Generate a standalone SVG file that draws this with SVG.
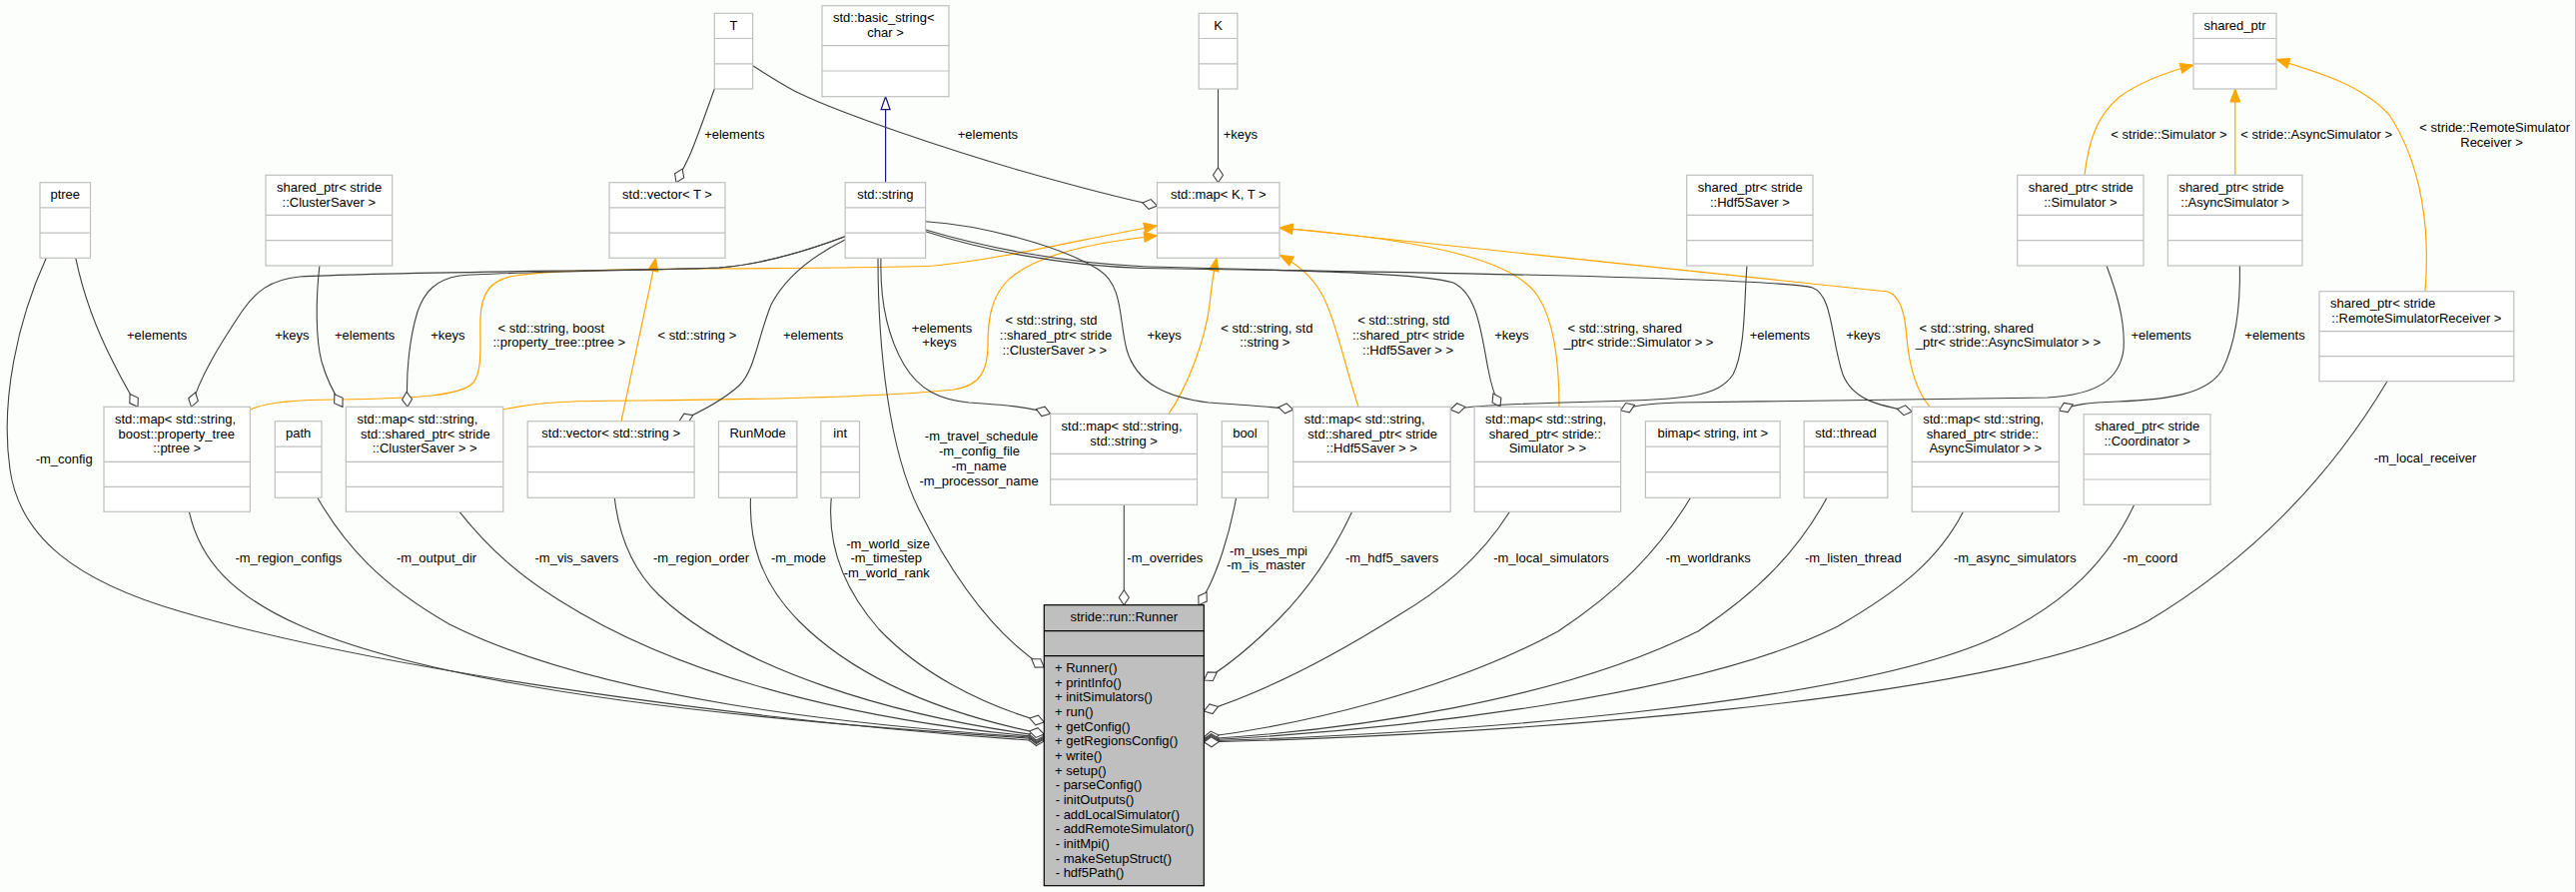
<svg xmlns="http://www.w3.org/2000/svg" width="2579" height="893" viewBox="0 0 2579 893">
<style>
.b{fill:#fff;stroke:#bfbfbf;stroke-width:1.2}
.s{stroke:#bfbfbf;stroke-width:1.2}
text{font-family:"Liberation Sans",Arial,Helvetica,sans-serif;font-size:13px;fill:#000}
.m{text-anchor:middle}
.e{fill:none;stroke:#404040;stroke-width:1.1;marker-end:url(#dia)}
.o{fill:none;stroke:#ffa500;stroke-width:1.2;marker-end:url(#arr)}
.n{fill:none;stroke:#191970;stroke-width:1.2;marker-end:url(#tri)}
</style>
<defs>
<marker id="dia" viewBox="0 0 17 12" markerWidth="17" markerHeight="12" refX="16" refY="6" orient="auto" markerUnits="userSpaceOnUse" overflow="visible"><path d="M1,6 L8.5,1 L16,6 L8.5,11 Z" fill="#fff" stroke="#404040" stroke-width="1.1"/></marker>
<marker id="arr" viewBox="0 0 15 12" markerWidth="15" markerHeight="12" refX="14" refY="6" orient="auto" markerUnits="userSpaceOnUse" overflow="visible"><path d="M1,1 L14,6 L1,11 Z" fill="#ffa500" stroke="#ffa500"/></marker>
<marker id="tri" viewBox="0 0 15 12" markerWidth="15" markerHeight="12" refX="14" refY="6" orient="auto" markerUnits="userSpaceOnUse" overflow="visible"><path d="M1,1.5 L14,6 L1,10.5 Z" fill="#fff" stroke="#191970" stroke-width="1.2"/></marker>
</defs>
<rect x="0" y="0" width="2579" height="893" fill="#fcfefc"/>
<rect x="2578" y="0" width="1" height="893" fill="#c4c4c4"/>

<g id="connectors">
<!-- template instantiation (orange) -->
<path class="o" d="M250.4,410 C268,402 300,400 337,400 C420,399 462,396 474,383 C484,370 480,340 481,318 C482,292 492,280 515,276 C560,270 620,270 700,269 C840,268 900,268 935,266 C1000,260 1090,238 1158.5,226"/>
<path class="o" d="M622,421.7 C632,375 645,315 656.5,258.3"/>
<path class="o" d="M503.8,410 C540,402 580,401 640,401 C760,400 880,398 955,390 C982,386 989,370 989,345 C989,318 993,300 1005,285 C1030,255 1100,242 1158.5,236"/>
<path class="o" d="M1170,414.3 C1186,392 1206,345 1211,305 C1213,285 1215,272 1218,258.3"/>
<path class="o" d="M1360,407.3 C1346,365 1336,315 1322,292 C1312,275 1298,264 1281.5,255.5"/>
<path class="o" d="M1561,407.3 C1561,360 1555,320 1540,297 C1520,265 1450,242 1281,228"/>
<path class="o" d="M1932,407.3 C1916,388 1911,362 1909,338 C1907,312 1902,296 1890,292 L1281,228"/>
<path class="o" d="M2087,175.3 C2091,140 2100,115 2122,97 C2142,82 2170,72 2196,65"/>
<path class="o" d="M2237.8,175.3 L2237.8,89"/>
<path class="o" d="M2428,291.7 C2433,230 2425,165 2392,115 C2365,85 2320,72 2279,59.5"/>
<!-- inheritance -->
<path class="n" d="M886.6,182.7 L886.6,96.7"/>
<!-- usage -->
<path class="e" d="M715.3,89 C707,112 699,135 692,152 C687,164 681,174 677,182.7"/>
<path class="e" d="M753.6,65.7 C770,76 785,86 800,93.3 C845,115 950,150 1018.8,170 C1075,186 1125,199 1158.5,206"/>
<path class="e" d="M1219.5,89 L1219.5,182.7"/>
<path class="e" d="M75.8,258.3 C84,298 99,335 114,364 C124,384 131,396 138,407.3"/>
<path class="e" d="M846,236.7 C800,254 760,265 720,268 C650,271 380,272 300,277 C270,280 256,292 242,312 C220,345 200,377 191.5,407.3"/>
<path class="e" d="M846,236.7 C800,254 760,265 720,268 C650,271 500,272 460,276 C436,280 425,292 418,312 C410,338 406,375 408,407.3"/>
<path class="e" d="M319.9,266 C316,300 316,340 322,362 C327,380 335,395 343,407.3"/>
<path class="e" d="M846,240 C810,258 785,280 772,305 C758,340 756,370 740,386 C722,402 700,413 680,421.7"/>
<path class="e" d="M882,258.3 C881,292 886,332 905,365 C920,390 940,400 970,403 C1000,405 1030,407 1051.6,414.3"/>
<path class="e" d="M879,258.3 C879,350 890,450 920,510 C950,570 990,632 1045.3,668"/>
<path class="e" d="M926.6,221.7 C980,225 1060,245 1100,270 C1125,286 1120,320 1128,350 C1138,385 1170,398 1210,403 C1250,406 1275,407 1294.7,410"/>
<path class="e" d="M926.6,230 C980,246 1060,263 1145,266.7 C1250,270 1420,272 1455,283 C1480,295 1483,335 1490,370 C1493,386 1497,398 1502,407.3"/>
<path class="e" d="M926.6,231.7 C980,249 1060,266 1145,268.5 C1400,272 1780,278 1814.5,288 C1835,295 1833,340 1845,375 C1855,400 1880,406 1914.2,412"/>
<path class="e" d="M1749,266 C1746,300 1748,350 1735,375 C1720,397 1690,400 1600,402 C1530,404 1480,405 1452.1,410"/>
<path class="e" d="M2109,266 C2118,290 2128,320 2126,350 C2122,380 2100,395 2050,398 C1900,401 1750,402 1680,403 C1650,404 1635,406 1622.6,411"/>
<path class="e" d="M2242.4,266 C2243,300 2240,340 2225,370 C2210,395 2170,400 2120,402 C2090,403 2075,405 2061.4,411"/>
<!-- members of Runner -->
<path class="e" d="M46.3,258.3 C18,320 0,400 10,470 C20,540 80,583 180,612 C400,677 800,726 1045.3,742"/>
<path class="e" d="M189.4,512.3 C200,560 232,596 300,626 C450,692 760,722 1045.3,740"/>
<path class="e" d="M317.8,498.3 C345,545 380,585 450,625 C600,700 850,726 1045.3,739"/>
<path class="e" d="M460,512.3 C490,550 520,576 560,601 C700,690 900,726 1045.3,738"/>
<path class="e" d="M615.3,498.3 C620,540 635,572 660,596 C740,672 900,718 1045.3,737"/>
<path class="e" d="M751.5,498.3 C750,540 760,582 800,622 C860,682 950,716 1045.3,735"/>
<path class="e" d="M832.3,498.3 C828,545 845,590 880,630 C920,672 980,705 1045.3,723"/>
<path class="e" d="M1125.3,505.3 L1125.3,605.7"/>
<path class="e" d="M1237.6,498.3 C1230,540 1218,572 1210,588 C1206,596 1203,601 1200,605.7"/>
<path class="e" d="M1353.7,512.3 C1335,552 1310,590 1280,620 C1255,645 1232,665 1205.3,681"/>
<path class="e" d="M1511.5,512.3 C1480,562 1440,592 1400,616 C1330,660 1262,694 1205.3,712"/>
<path class="e" d="M1692.5,498.3 C1660,552 1620,592 1560,632 C1450,692 1300,726 1205.3,738"/>
<path class="e" d="M1829,498.3 C1800,552 1760,592 1700,632 C1560,702 1350,731 1205.3,740"/>
<path class="e" d="M1965.5,512.3 C1940,562 1900,592 1840,627 C1700,697 1400,731 1205.3,741"/>
<path class="e" d="M2136.7,505.3 C2110,562 2070,602 2000,637 C1850,707 1450,734 1205.3,742"/>
<path class="e" d="M2390,381.7 C2330,482 2250,562 2150,622 C2000,702 1500,736 1205.3,743"/>
</g>

<g id="edge-labels">
<text class="m" x="735.3" y="139.4">+elements</text>
<text class="m" x="988.9" y="139.4">+elements</text>
<text class="m" x="1241.9" y="139.4">+keys</text>
<text class="m" x="2171.5" y="139.4">&lt; stride::Simulator &gt;</text>
<text class="m" x="2319.2" y="139.4">&lt; stride::AsyncSimulator &gt;</text>
<text class="m" x="2497.7" y="132.4">&lt; stride::RemoteSimulator</text>
<text class="m" x="2494.5" y="147.1">Receiver &gt;</text>
<text class="m" x="157.2" y="340.4">+elements</text>
<text class="m" x="292.3" y="340.4">+keys</text>
<text class="m" x="365.1" y="340.4">+elements</text>
<text class="m" x="448.4" y="340.4">+keys</text>
<text class="m" x="551.8" y="333.4">&lt; std::string, boost</text>
<text class="m" x="559.8" y="347.4">::property_tree::ptree &gt;</text>
<text class="m" x="697.9" y="340.4">&lt; std::string &gt;</text>
<text class="m" x="814.2" y="340.4">+elements</text>
<text class="m" x="943" y="333.4">+elements</text>
<text class="m" x="940.5" y="347.4">+keys</text>
<text class="m" x="1052.5" y="325.4">&lt; std::string, std</text>
<text class="m" x="1057" y="340.1">::shared_ptr&lt; stride</text>
<text class="m" x="1055.8" y="354.8">::ClusterSaver &gt; &gt;</text>
<text class="m" x="1165.7" y="340.4">+keys</text>
<text class="m" x="1268.3" y="333.4">&lt; std::string, std</text>
<text class="m" x="1266.3" y="347.4">::string &gt;</text>
<text class="m" x="1405.2" y="325.4">&lt; std::string, std</text>
<text class="m" x="1410.1" y="340.1">::shared_ptr&lt; stride</text>
<text class="m" x="1409.6" y="354.8">::Hdf5Saver &gt; &gt;</text>
<text class="m" x="1513.4" y="340.4">+keys</text>
<text class="m" x="1626.8" y="333.4">&lt; std::string, shared</text>
<text class="m" x="1640.5" y="347.4">_ptr&lt; stride::Simulator &gt; &gt;</text>
<text class="m" x="1781.9" y="340.4">+elements</text>
<text class="m" x="1865.3" y="340.4">+keys</text>
<text class="m" x="1978.8" y="333.4">&lt; std::string, shared</text>
<text class="m" x="2010.5" y="347.4">_ptr&lt; stride::AsyncSimulator &gt; &gt;</text>
<text class="m" x="2163.7" y="340.4">+elements</text>
<text class="m" x="2277.5" y="340.4">+elements</text>
<text class="m" x="64.2" y="463.7">-m_config</text>
<text class="m" x="288.9" y="563.4">-m_region_configs</text>
<text class="m" x="437.1" y="563.4">-m_output_dir</text>
<text class="m" x="577.4" y="563.4">-m_vis_savers</text>
<text class="m" x="702.1" y="563.4">-m_region_order</text>
<text class="m" x="799.5" y="563.4">-m_mode</text>
<text class="m" x="889.2" y="548.7">-m_world_size</text>
<text class="m" x="887.3" y="563.4">-m_timestep</text>
<text class="m" x="887.7" y="578">-m_world_rank</text>
<text class="m" x="982.6" y="441.4">-m_travel_schedule</text>
<text class="m" x="980.5" y="456.1">-m_config_file</text>
<text class="m" x="980.2" y="470.8">-m_name</text>
<text class="m" x="980" y="485.5">-m_processor_name</text>
<text class="m" x="1166.3" y="563.4">-m_overrides</text>
<text class="m" x="1270" y="555.7">-m_uses_mpi</text>
<text class="m" x="1267.5" y="570.4">-m_is_master</text>
<text class="m" x="1393.6" y="563.4">-m_hdf5_savers</text>
<text class="m" x="1553" y="563.4">-m_local_simulators</text>
<text class="m" x="1710.1" y="563.4">-m_worldranks</text>
<text class="m" x="1855.3" y="563.4">-m_listen_thread</text>
<text class="m" x="2017.3" y="563.4">-m_async_simulators</text>
<text class="m" x="2152.8" y="563.4">-m_coord</text>
<text class="m" x="2428" y="463.4">-m_local_receiver</text>
</g>

<g id="n_ptree"><rect class="b" x="40" y="182.7" width="50.5" height="75.6"/><line class="s" x1="40" y1="207.9" x2="90.5" y2="207.9"/><line class="s" x1="40" y1="233.1" x2="90.5" y2="233.1"/><text class="m" x="65.25" y="199.2">ptree</text></g>
<g id="n_spCluster"><rect class="b" x="266" y="175.3" width="126.7" height="90.7"/><line class="s" x1="266" y1="215.3" x2="392.7" y2="215.3"/><line class="s" x1="266" y1="240.6" x2="392.7" y2="240.6"/><text x="277" y="191.8">shared_ptr&lt; stride</text><text class="m" x="329.35" y="206.5">::ClusterSaver &gt;</text></g>
<g id="n_vecT"><rect class="b" x="610" y="182.7" width="116" height="75.6"/><line class="s" x1="610" y1="207.9" x2="726" y2="207.9"/><line class="s" x1="610" y1="233.1" x2="726" y2="233.1"/><text class="m" x="668" y="199.2">std::vector&lt; T &gt;</text></g>
<g id="n_T"><rect class="b" x="715.3" y="13.3" width="38.3" height="75.7"/><line class="s" x1="715.3" y1="38.5" x2="753.6" y2="38.5"/><line class="s" x1="715.3" y1="63.8" x2="753.6" y2="63.8"/><text class="m" x="734.45" y="29.8">T</text></g>
<g id="n_basic"><rect class="b" x="823" y="5.7" width="127" height="91"/><line class="s" x1="823" y1="45.7" x2="950" y2="45.7"/><line class="s" x1="823" y1="71" x2="950" y2="71"/><text x="834" y="22.2">std::basic_string&lt;</text><text class="m" x="886.5" y="36.9">char &gt;</text></g>
<g id="n_string"><rect class="b" x="846.2" y="182.7" width="80.4" height="75.6"/><line class="s" x1="846.2" y1="207.9" x2="926.6" y2="207.9"/><line class="s" x1="846.2" y1="233.1" x2="926.6" y2="233.1"/><text class="m" x="886.4" y="199.2">std::string</text></g>
<g id="n_K"><rect class="b" x="1200.2" y="13.3" width="38.7" height="75.7"/><line class="s" x1="1200.2" y1="38.5" x2="1238.9" y2="38.5"/><line class="s" x1="1200.2" y1="63.8" x2="1238.9" y2="63.8"/><text class="m" x="1219.55" y="29.8">K</text></g>
<g id="n_mapKT"><rect class="b" x="1158.5" y="182.7" width="122.5" height="75.6"/><line class="s" x1="1158.5" y1="207.9" x2="1281" y2="207.9"/><line class="s" x1="1158.5" y1="233.1" x2="1281" y2="233.1"/><text class="m" x="1219.75" y="199.2">std::map&lt; K, T &gt;</text></g>
<g id="n_spHdf5"><rect class="b" x="1688.7" y="175.3" width="126.3" height="90.7"/><line class="s" x1="1688.7" y1="215.3" x2="1815" y2="215.3"/><line class="s" x1="1688.7" y1="240.6" x2="1815" y2="240.6"/><text x="1699.7" y="191.8">shared_ptr&lt; stride</text><text class="m" x="1751.85" y="206.5">::Hdf5Saver &gt;</text></g>
<g id="n_sp"><rect class="b" x="2196" y="13.3" width="83" height="75.7"/><line class="s" x1="2196" y1="38.5" x2="2279" y2="38.5"/><line class="s" x1="2196" y1="63.8" x2="2279" y2="63.8"/><text class="m" x="2237.5" y="29.8">shared_ptr</text></g>
<g id="n_spSim"><rect class="b" x="2019.7" y="175.3" width="126.3" height="90.7"/><line class="s" x1="2019.7" y1="215.3" x2="2146" y2="215.3"/><line class="s" x1="2019.7" y1="240.6" x2="2146" y2="240.6"/><text x="2030.7" y="191.8">shared_ptr&lt; stride</text><text class="m" x="2082.85" y="206.5">::Simulator &gt;</text></g>
<g id="n_spAsync"><rect class="b" x="2170.4" y="175.3" width="134.6" height="90.7"/><line class="s" x1="2170.4" y1="215.3" x2="2305" y2="215.3"/><line class="s" x1="2170.4" y1="240.6" x2="2305" y2="240.6"/><text x="2181.4" y="191.8">shared_ptr&lt; stride</text><text class="m" x="2237.7" y="206.5">::AsyncSimulator &gt;</text></g>
<g id="n_spRemote"><rect class="b" x="2322" y="291.7" width="194.8" height="90"/><line class="s" x1="2322" y1="331.7" x2="2516.8" y2="331.7"/><line class="s" x1="2322" y1="356.7" x2="2516.8" y2="356.7"/><text x="2333" y="308.2">shared_ptr&lt; stride</text><text class="m" x="2419.4" y="322.9">::RemoteSimulatorReceiver &gt;</text></g>
<g id="n_mapPtree"><rect class="b" x="104" y="407.3" width="146.4" height="105"/><line class="s" x1="104" y1="462.3" x2="250.4" y2="462.3"/><line class="s" x1="104" y1="487.3" x2="250.4" y2="487.3"/><text x="115" y="423.8">std::map&lt; std::string,</text><text x="118.6" y="438.5">boost::property_tree</text><text class="m" x="177.2" y="453.2">::ptree &gt;</text></g>
<g id="n_path"><rect class="b" x="275.3" y="421.7" width="46.7" height="76.6"/><line class="s" x1="275.3" y1="447.2" x2="322" y2="447.2"/><line class="s" x1="275.3" y1="472.7" x2="322" y2="472.7"/><text class="m" x="298.65" y="438.2">path</text></g>
<g id="n_mapCluster"><rect class="b" x="346.4" y="407.3" width="157.4" height="105"/><line class="s" x1="346.4" y1="462.3" x2="503.8" y2="462.3"/><line class="s" x1="346.4" y1="487.3" x2="503.8" y2="487.3"/><text x="357.4" y="423.8">std::map&lt; std::string,</text><text x="361" y="438.5">std::shared_ptr&lt; stride</text><text class="m" x="425.1" y="453.2">::ClusterSaver &gt; &gt;</text></g>
<g id="n_vecStr"><rect class="b" x="528.2" y="421.7" width="166.9" height="76.6"/><line class="s" x1="528.2" y1="447.2" x2="695.1" y2="447.2"/><line class="s" x1="528.2" y1="472.7" x2="695.1" y2="472.7"/><text class="m" x="611.65" y="438.2">std::vector&lt; std::string &gt;</text></g>
<g id="n_RunMode"><rect class="b" x="719.5" y="421.7" width="78.3" height="76.6"/><line class="s" x1="719.5" y1="447.2" x2="797.8" y2="447.2"/><line class="s" x1="719.5" y1="472.7" x2="797.8" y2="472.7"/><text class="m" x="758.65" y="438.2">RunMode</text></g>
<g id="n_int"><rect class="b" x="821.8" y="421.7" width="38.7" height="76.6"/><line class="s" x1="821.8" y1="447.2" x2="860.5" y2="447.2"/><line class="s" x1="821.8" y1="472.7" x2="860.5" y2="472.7"/><text class="m" x="841.15" y="438.2">int</text></g>
<g id="n_mapStrStr"><rect class="b" x="1051.6" y="414.3" width="146.9" height="91"/><line class="s" x1="1051.6" y1="454.3" x2="1198.5" y2="454.3"/><line class="s" x1="1051.6" y1="479.8" x2="1198.5" y2="479.8"/><text x="1062.6" y="430.8">std::map&lt; std::string,</text><text class="m" x="1125.05" y="445.5">std::string &gt;</text></g>
<g id="n_bool"><rect class="b" x="1223.3" y="421.7" width="46.3" height="76.6"/><line class="s" x1="1223.3" y1="447.2" x2="1269.6" y2="447.2"/><line class="s" x1="1223.3" y1="472.7" x2="1269.6" y2="472.7"/><text class="m" x="1246.45" y="438.2">bool</text></g>
<g id="n_mapHdf5"><rect class="b" x="1294.7" y="407.3" width="157.4" height="105"/><line class="s" x1="1294.7" y1="462.3" x2="1452.1" y2="462.3"/><line class="s" x1="1294.7" y1="487.3" x2="1452.1" y2="487.3"/><text x="1305.7" y="423.8">std::map&lt; std::string,</text><text x="1309.3" y="438.5">std::shared_ptr&lt; stride</text><text class="m" x="1373.4" y="453.2">::Hdf5Saver &gt; &gt;</text></g>
<g id="n_mapSim"><rect class="b" x="1476.1" y="407.3" width="146.5" height="105"/><line class="s" x1="1476.1" y1="462.3" x2="1622.6" y2="462.3"/><line class="s" x1="1476.1" y1="487.3" x2="1622.6" y2="487.3"/><text x="1487.1" y="423.8">std::map&lt; std::string,</text><text x="1490.7" y="438.5">shared_ptr&lt; stride::</text><text class="m" x="1549.35" y="453.2">Simulator &gt; &gt;</text></g>
<g id="n_bimap"><rect class="b" x="1647.4" y="421.7" width="134.7" height="76.6"/><line class="s" x1="1647.4" y1="447.2" x2="1782.1" y2="447.2"/><line class="s" x1="1647.4" y1="472.7" x2="1782.1" y2="472.7"/><text class="m" x="1714.75" y="438.2">bimap&lt; string, int &gt;</text></g>
<g id="n_thread"><rect class="b" x="1806.1" y="421.7" width="83.7" height="76.6"/><line class="s" x1="1806.1" y1="447.2" x2="1889.8" y2="447.2"/><line class="s" x1="1806.1" y1="472.7" x2="1889.8" y2="472.7"/><text class="m" x="1847.95" y="438.2">std::thread</text></g>
<g id="n_mapAsync"><rect class="b" x="1914.2" y="407.3" width="147.2" height="105"/><line class="s" x1="1914.2" y1="462.3" x2="2061.4" y2="462.3"/><line class="s" x1="1914.2" y1="487.3" x2="2061.4" y2="487.3"/><text x="1925.2" y="423.8">std::map&lt; std::string,</text><text x="1928.8" y="438.5">shared_ptr&lt; stride::</text><text class="m" x="1987.8" y="453.2">AsyncSimulator &gt; &gt;</text></g>
<g id="n_spCoord"><rect class="b" x="2086.2" y="414.7" width="126.8" height="90.6"/><line class="s" x1="2086.2" y1="454.7" x2="2213" y2="454.7"/><line class="s" x1="2086.2" y1="480" x2="2213" y2="480"/><text x="2097.2" y="431.2">shared_ptr&lt; stride</text><text class="m" x="2149.6" y="445.9">::Coordinator &gt;</text></g>
<g id="n_Runner"><rect x="1045.3" y="605.7" width="160" height="281" fill="#bfbfbf" stroke="#000" stroke-width="1.2"/><line x1="1045.3" y1="631.7" x2="1205.3" y2="631.7" stroke="#000" stroke-width="1.2"/><line x1="1045.3" y1="656.7" x2="1205.3" y2="656.7" stroke="#000" stroke-width="1.2"/><text class="m" x="1125.3" y="622.3">stride::run::Runner</text>
<text x="1056" y="673">+ Runner()</text>
<text x="1056" y="687.7">+ printInfo()</text>
<text x="1056" y="702.3">+ initSimulators()</text>
<text x="1056" y="717">+ run()</text>
<text x="1056" y="731.7">+ getConfig()</text>
<text x="1056" y="746.3">+ getRegionsConfig()</text>
<text x="1056" y="761">+ write()</text>
<text x="1056" y="775.7">+ setup()</text>
<text x="1056.7" y="790.3">- parseConfig()</text>
<text x="1056.7" y="805">- initOutputs()</text>
<text x="1056.7" y="819.7">- addLocalSimulator()</text>
<text x="1056.7" y="834.3">- addRemoteSimulator()</text>
<text x="1056.7" y="849">- initMpi()</text>
<text x="1056.7" y="863.7">- makeSetupStruct()</text>
<text x="1056.7" y="878.3">- hdf5Path()</text>
</g>
</svg>
